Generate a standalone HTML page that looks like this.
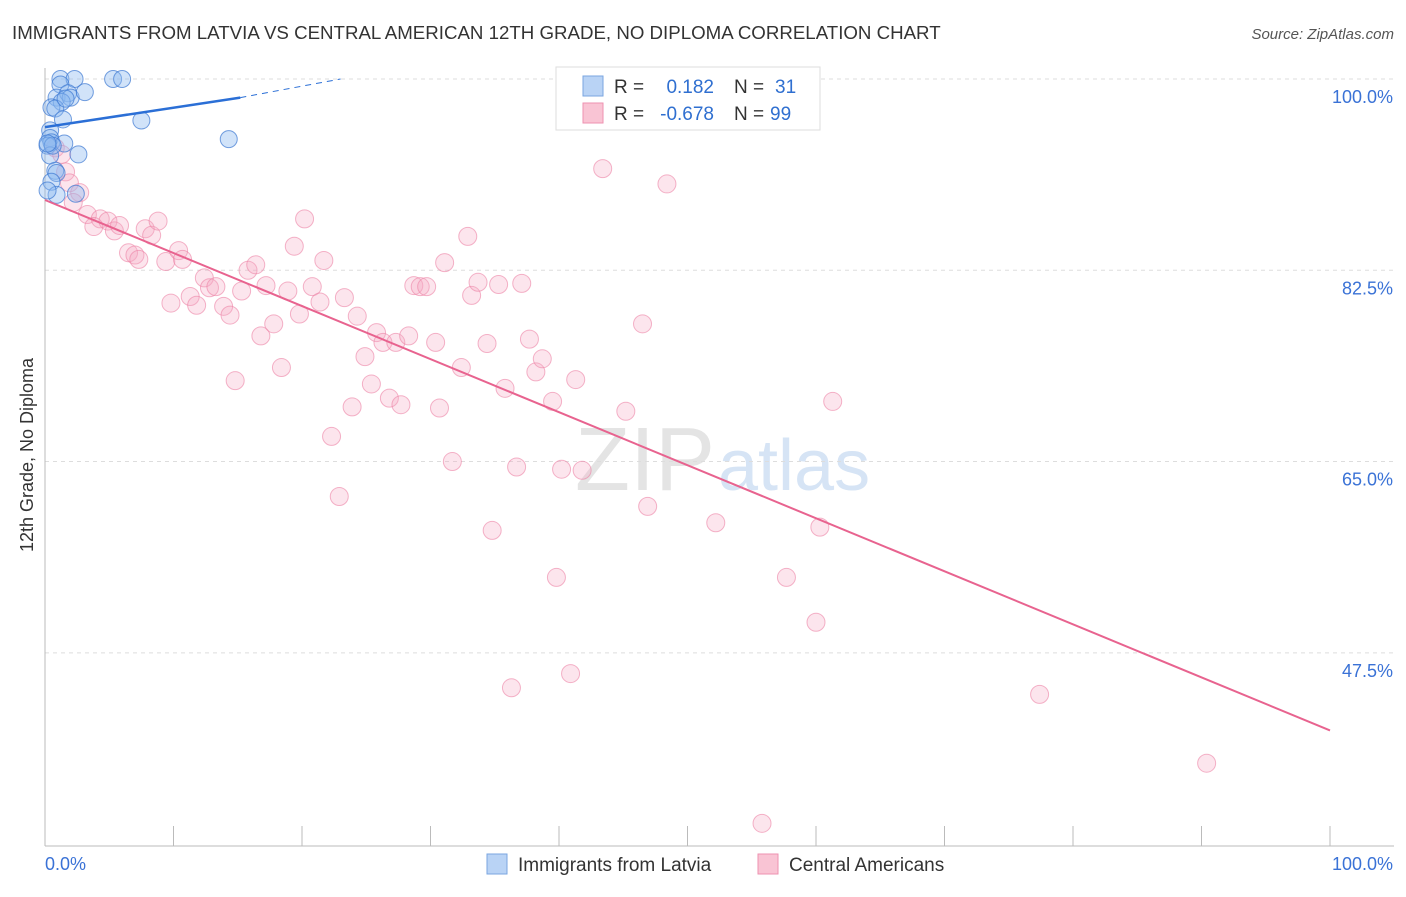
<!DOCTYPE html>
<html><head><meta charset="utf-8"><style>
body{margin:0;background:#fff;font-family:"Liberation Sans",sans-serif}
svg text{font-family:"Liberation Sans",sans-serif}
</style></head><body>
<svg id="c" width="1406" height="892">
<text x="12" y="39" font-size="18.7" fill="#333">IMMIGRANTS FROM LATVIA VS CENTRAL AMERICAN 12TH GRADE, NO DIPLOMA CORRELATION CHART</text>
<text x="1394" y="39" font-size="15" fill="#555" font-style="italic" text-anchor="end">Source: ZipAtlas.com</text>
<text x="33" y="455" font-size="18" fill="#333" transform="rotate(-90 33 455)" text-anchor="middle">12th Grade, No Diploma</text>
<text x="715" y="490" font-size="90" fill="#e4e4e4" text-anchor="end" font-family="Liberation Serif">ZIP</text>
<text x="718" y="490" font-size="72" fill="#d6e4f5">atlas</text>
<g id="grid"></g><g id="pts"></g><g id="lines"></g>
<g>
<rect x="556" y="67" width="264" height="63" fill="#fff" stroke="#ddd"/>
<rect x="583" y="76" width="20" height="20" fill="#b9d3f5" stroke="#7aa6e0"/>
<rect x="583" y="103" width="20" height="20" fill="#f9c4d4" stroke="#ee92b0"/>
<text x="614" y="93" font-size="19" fill="#333">R =</text>
<text x="714" y="93" font-size="19" fill="#2f6fd0" text-anchor="end">0.182</text>
<text x="734" y="93" font-size="19" fill="#333">N =</text>
<text x="775" y="93" font-size="19" fill="#2f6fd0">31</text>
<text x="614" y="120" font-size="19" fill="#333">R =</text>
<text x="714" y="120" font-size="19" fill="#2f6fd0" text-anchor="end">-0.678</text>
<text x="734" y="120" font-size="19" fill="#333">N =</text>
<text x="770" y="120" font-size="19" fill="#2f6fd0">99</text>
</g>
<g>
<rect x="487" y="854" width="20" height="20" fill="#b9d3f5" stroke="#7aa6e0"/>
<text x="518" y="871" font-size="19" fill="#333">Immigrants from Latvia</text>
<rect x="758" y="854" width="20" height="20" fill="#f9c4d4" stroke="#ee92b0"/>
<text x="789" y="871" font-size="19" fill="#333">Central Americans</text>
</g>
</svg>
<script>
const yTicks=[100,82.5,65,47.5];
const xTickLabels=["0.0%","100.0%"];
const blueX=[1.2,2.3,5.3,6,1.2,0.9,1.8,2,3.1,1.3,0.5,0.8,1.4,7.5,14.3,0.4,0.4,0.5,0.2,1.5,2.6,0.4,0.8,0.9,0.5,2.4,0.9,0.2,0.6,0.2,1.6];
const blueY=[100,100,100,100,99.5,98.3,98.7,98.3,98.8,97.9,97.4,97.3,96.3,96.2,94.5,95.3,94.6,94.2,93.9,94.1,93.1,93,91.6,91.4,90.6,89.5,89.4,89.8,93.9,94.1,98.2];
const pinkX=[0.8,1.3,1.6,1.9,2.7,2.2,3.3,4.3,4.9,3.8,5.4,5.8,6.5,7,7.3,7.8,8.3,8.8,9.4,9.8,10.4,10.7,11.3,11.8,12.4,12.8,13.3,13.9,14.4,14.8,15.3,15.8,16.4,16.8,17.2,17.8,18.4,18.9,19.4,19.8,20.2,20.8,21.4,21.7,22.3,22.9,23.3,23.9,24.3,24.9,25.4,25.8,26.3,26.8,27.3,27.7,28.3,28.7,29.2,29.7,30.4,30.7,31.1,31.7,32.4,32.9,33.2,33.7,34.4,34.8,35.3,35.8,36.3,36.7,37.1,37.7,38.2,38.7,39.5,39.8,40.2,40.9,41.3,41.8,43.4,45.2,46.5,46.9,48.4,52.2,55.8,57.7,60,60.3,61.3,77.4,90.4,49,55];
const pinkY=[93.7,93.1,91.5,90.5,89.6,88.7,87.6,87.2,87,86.5,86.1,86.6,84.1,83.9,83.5,86.3,85.7,87,83.3,79.5,84.3,83.5,80.1,79.3,81.8,80.9,81,79.2,78.4,72.4,80.6,82.5,83,76.5,81.1,77.6,73.6,80.6,84.7,78.5,87.2,81,79.6,83.4,67.3,61.8,80,70,78.3,74.6,72.1,76.8,75.9,70.8,75.9,70.2,76.5,81.1,81,81,75.9,69.9,83.2,65,73.6,85.6,80.2,81.4,75.8,58.7,81.2,71.7,44.3,64.5,81.3,76.2,73.2,74.4,70.5,54.4,64.3,45.6,72.5,64.2,91.8,69.6,77.6,60.9,90.4,59.4,31.9,54.4,50.3,59,70.5,43.7,37.4,100,100];
const X=v=>45+v*12.85, Y=v=>79+(100-v)*10.93;
const NS="http://www.w3.org/2000/svg";
const svg=document.getElementById('c'),g=document.getElementById('grid'),P=document.getElementById('pts'),L=document.getElementById('lines');
function mk(t,a,p){const e=document.createElementNS(NS,t);for(const k in a)e.setAttribute(k,a[k]);p.appendChild(e);return e;}
yTicks.forEach(t=>{
 const l=mk('line',{x1:45,x2:1394,y1:Y(t),y2:Y(t),stroke:'#ddd','stroke-dasharray':'4,4'},g);
 
 
 const tx=mk('text',{x:1393,y:Y(t)+24,'font-size':18,fill:'#3a72d6','text-anchor':'end'},g);tx.textContent=t.toFixed(1)+'%';
 
 
});
mk('line',{x1:45,x2:45,y1:68,y2:846,stroke:'#bbb'},g);
mk('line',{x1:45,x2:1394,y1:846,y2:846,stroke:'#bbb'},g);
for(let i=0;i<=10;i++){mk('line',{x1:X(i*10),x2:X(i*10),y1:826,y2:846,stroke:'#bbb'},g);}
xTickLabels.forEach((s,i)=>{const t=mk('text',{x:i?1393:45,y:870,'font-size':18,fill:'#3a72d6','text-anchor':i?'end':'start'},g);t.textContent=s;
 
 });
pinkX.forEach((x,i)=>{const c=mk('circle',{cx:X(x),cy:Y(pinkY[i]),r:9,fill:'rgba(246,170,196,0.3)',stroke:'rgba(236,130,165,0.6)','stroke-width':1},P);
 
 });
blueX.forEach((x,i)=>{const c=mk('circle',{cx:X(x),cy:Y(blueY[i]),r:8.5,fill:'rgba(140,185,240,0.4)',stroke:'rgba(60,120,210,0.7)','stroke-width':1},P);
 
 });
const pl=mk('line',{x1:X(0),y1:Y(88.93),x2:X(100),y2:Y(40.4),stroke:'#e8638f','stroke-width':2},L);


const bl=mk('line',{x1:X(0),y1:Y(95.6),x2:X(15.2),y2:Y(98.3),stroke:'#2b6fd6','stroke-width':2.5},L);


mk('line',{x1:X(15.2),y1:Y(98.3),x2:X(23),y2:Y(100),stroke:'#2b6fd6','stroke-width':1,'stroke-dasharray':'6,5'},L);
</script>
</body></html>
